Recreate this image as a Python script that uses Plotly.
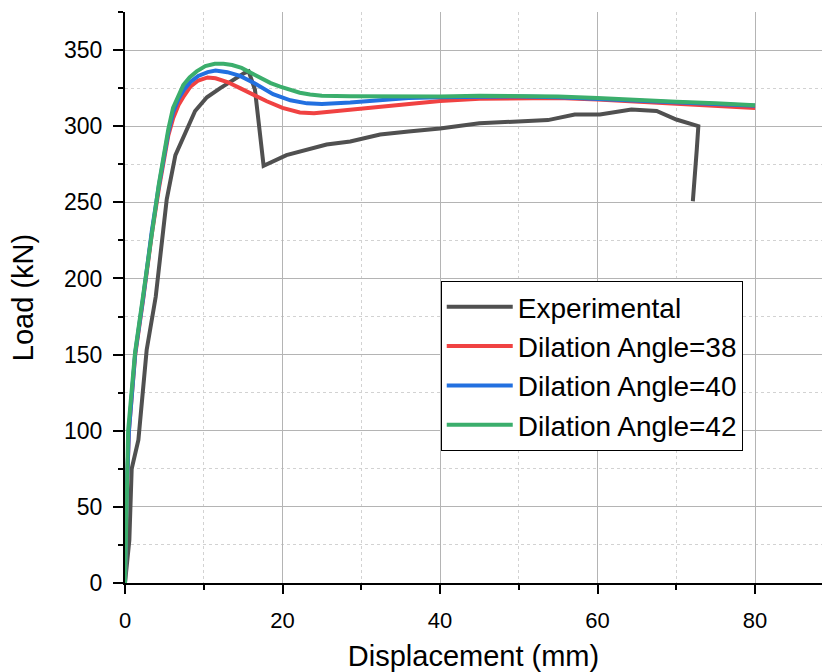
import plotly.graph_objects as go

# ---- data ----
exp_x = [0, 0.55, 0.85, 1.7, 2.75, 3.9, 4.86, 5.3, 6.4, 8.9, 10.4, 12.1, 15.2, 15.7, 16.5, 17.6,
         20.5, 22.2, 25.6, 28.6, 32.4, 36, 40, 45, 48.9, 53.7, 57.1, 60.3, 64.3, 67.5,
         70, 72.8, 72.6, 72.1]
exp_y = [0, 28, 75, 94, 153, 188, 232, 252, 281, 310, 319, 325, 335, 336, 324, 274,
         281, 283.5, 288, 290, 294.5, 296.5, 298.5, 302, 303, 304, 307.7, 307.7, 311, 310,
         304.4, 300, 284.7, 250.7]

d38_x = [0, 0.2, 0.5, 1.3, 2.3, 3.4, 4.3, 4.9, 5.5, 6.1, 6.8, 7.5, 8.3, 9.3, 10.5, 11.5, 13,
         14.6, 16.3, 18, 20, 22.2, 24, 26, 28.6, 32, 36, 40, 45, 50, 55, 60, 65, 70, 75, 80]
d38_y = [0, 55, 100, 150, 186, 229, 259, 277, 294, 305, 314, 320, 326, 330, 332, 331.5, 329,
         325, 320.5, 316.4, 312, 309, 308.5, 309.5, 311, 313, 315, 316.5, 318, 318.5, 318.5,
         317.5, 316, 315, 313.5, 312]

d40_x = [0, 0.2, 0.5, 1.3, 2.3, 3.4, 4.3, 4.9, 5.5, 6.1, 6.8, 7.5, 8.3, 9.3, 10.5, 11.5, 13,
         14.6, 16.5, 18.8, 21, 23.1, 25, 28.6, 32, 36, 40, 45, 50, 55, 60, 65, 70, 75, 80]
d40_y = [0, 57, 100, 151, 187, 231, 261, 279, 296, 309, 318, 324, 329, 333, 335.5, 336.5,
         335.5, 333, 328, 321, 317, 315, 314.5, 315.5, 317, 318.5, 319, 319.5, 319.5, 319,
         318, 317, 316, 315, 313.5]

d42_x = [0, 0.2, 0.4, 1.27, 2.3, 3.4, 4.3, 4.9, 5.5, 6.1, 6.8, 7.4, 8.2, 9.1, 10.2, 11.4,
         12.5, 13.6, 14.8, 16, 17.1, 18.5, 19.7, 21, 22.2, 23.5, 25, 28.6, 32, 36, 40, 45,
         50, 55, 60, 65, 70, 75, 80]
d42_y = [0, 59, 100, 151, 188, 232, 262, 280, 298, 312, 321, 327, 332, 336, 339.5, 341,
         341, 340.2, 338.3, 335, 331.5, 328.3, 326, 323.8, 322, 320.8, 320, 319.7, 319.5,
         319.5, 319.5, 320, 320, 319.5, 318.5, 317, 316, 315, 313.8]

series_names = ["Experimental", "Dilation Angle=38", "Dilation Angle=40", "Dilation Angle=42"]
series_colors = ["#505050", "#F04242", "#2270E0", "#3BAE6C"]

x_ticks = [0, 20, 40, 60, 80]
y_ticks = [0, 50, 100, 150, 200, 250, 300, 350]

FONT = "Arial, Liberation Sans, sans-serif"

fig = go.Figure()
for (xs, ys), name, col in zip([(exp_x, exp_y), (d38_x, d38_y), (d40_x, d40_y), (d42_x, d42_y)],
                               series_names, series_colors):
    fig.add_trace(go.Scatter(x=xs, y=ys, mode="lines", name=name,
                             line=dict(color=col, width=4)))

fig.update_layout(
    width=822, height=672,
    margin=dict(l=125, r=0, t=12, b=89),
    paper_bgcolor="white", plot_bgcolor="white",
    font=dict(family=FONT, color="black"),
    showlegend=True,
    legend=dict(x=0.453, y=0.529, xanchor="left", yanchor="top",
                bgcolor="white", bordercolor="black", borderwidth=1,
                font=dict(size=28, family=FONT), itemwidth=66,
                tracegroupgap=0),
)

fig.update_xaxes(
    range=[0, 88.5], tickvals=x_ticks, ticktext=[str(v) for v in x_ticks],
    showline=True, linecolor="black", linewidth=2,
    ticks="outside", ticklen=9, tickwidth=2, tickcolor="black",
    tickfont=dict(size=22, family=FONT), ticklabelstandoff=8,
    showgrid=True, gridcolor="#b4b4b4", gridwidth=1,
    zeroline=False,
    minor=dict(tickvals=[10, 30, 50, 70], ticks="outside", ticklen=5, tickwidth=2,
               tickcolor="black", showgrid=True, gridcolor="#d2d2d2",
               griddash="dot", gridwidth=1),
    title=dict(text="Displacement (mm)", font=dict(size=29, family=FONT), standoff=14),
)
fig.update_yaxes(
    range=[0, 375], tickvals=y_ticks, ticktext=[str(v) for v in y_ticks],
    showline=True, linecolor="black", linewidth=2,
    ticks="outside", ticklen=10, tickwidth=2, tickcolor="black",
    tickfont=dict(size=23, family=FONT), ticklabelstandoff=6,
    showgrid=True, gridcolor="#b4b4b4", gridwidth=1,
    zeroline=False,
    minor=dict(tickvals=[25, 75, 125, 175, 225, 275, 325, 375], ticks="outside",
               ticklen=5, tickwidth=2, tickcolor="black", showgrid=True,
               gridcolor="#d2d2d2", griddash="dot", gridwidth=1),
    title=dict(text="Load (kN)", font=dict(size=29, family=FONT), standoff=22),
)

fig.write_html("out.html")
